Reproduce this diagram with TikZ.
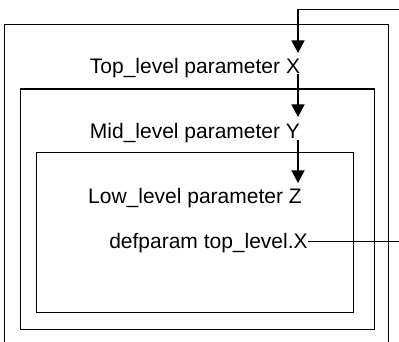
\documentclass[tikz,border=0pt]{standalone}
\usepackage{fontspec}
\setmainfont{Liberation Sans}
\usetikzlibrary{arrows.meta,calc}
\tikzset{
  frame/.style={draw=black, line width=1.2pt},
  label/.style={inner sep=0pt, anchor=base, font=\fontsize{21}{25}\selectfont},
  arr/.style={draw=black, line width=1.2pt, -{Triangle[width=13pt,length=12.5pt]}},
  wire/.style={draw=black, line width=1.2pt},
}
\begin{document}
\begin{tikzpicture}[x=1pt, y=-1pt]
\useasboundingbox (0,0) rectangle (399,342);
% frames
\draw[frame] (4.7,345) -- (4.7,24.5) -- (388.7,24.5) -- (388.7,345);
\draw[frame] (20.7,89) rectangle (374.7,329.3);
\draw[frame] (36.3,152.7) rectangle (353.3,312.7);
% texts
\node[label] (t) at (195,74) {Top\_level parameter X};
\node[label] (m) at (195,138.5) {Mid\_level parameter Y};
\node[label] (l) at (195,204) {Low\_level parameter Z};
\node[label] (d) at (208.5,248.5) {defparam top\_level.X};
% connector coordinates
\coordinate (ax) at (298,0);
\coordinate (in1) at (400,9.3);
\coordinate (dx) at ($(d.base east)+(0,-7.3)$);
\coordinate (out1) at (400,0);
% arrows
\draw[arr] (in1) -| ($(t.base -| ax)+(0,-21)$);
\draw[arr] (t.base -| ax) -- ($(m.base -| ax)+(0,-21.5)$);
\draw[arr] ($(m.base -| ax)+(0,1.5)$) -- ($(l.base -| ax)+(0,-21)$);
\draw[wire] (dx) -- (dx -| out1);
\end{tikzpicture}
\end{document}
